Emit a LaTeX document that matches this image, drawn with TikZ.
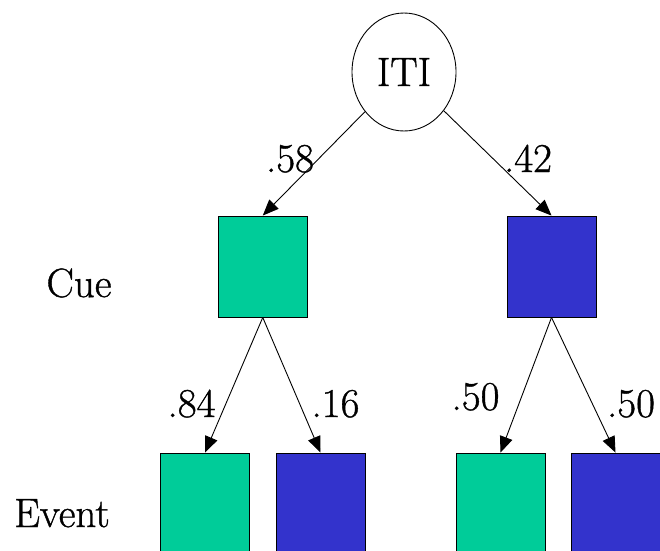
\documentclass[tikz,border=0pt]{standalone}
\usepackage{fontspec}
\newfontfamily\treefont{Latin Modern Roman}[FakeBold=0.9]
\usetikzlibrary{arrows.meta,shapes.geometric}
\definecolor{cuegreen}{RGB}{0,204,153}
\definecolor{cueblue}{RGB}{51,51,204}
\begin{document}
\begin{tikzpicture}[x=1pt,y=-1pt,
  every node/.style={font=\treefont\fontsize{41}{41}\selectfont},
  sq/.style={draw=black, line width=0.9pt, minimum width=89pt, minimum height=101pt, inner sep=0pt},
  greensq/.style={sq, fill=cuegreen},
  bluesq/.style={sq, fill=cueblue},
  lbl/.style={anchor=base, inner sep=0pt},
  branch/.style={draw=black, line width=0.9pt, -{Triangle[length=16pt,width=13pt]}}]
  \useasboundingbox (0,0) rectangle (660,550);
  \clip (0,0) rectangle (660,550);
  % root
  \node[draw=black, line width=0.9pt, ellipse, minimum width=104pt, minimum height=118pt, inner sep=0pt] (iti) at (404,72) {ITI};
  % cue level
  \node[greensq] (cueG) at (262.75,266.5) {};
  \node[bluesq]  (cueB) at (551.5,266.5) {};
  % event level
  \node[greensq] (evG1) at (205,503.5) {};
  \node[bluesq]  (evB1) at (320.5,503.5) {};
  \node[greensq] (evG2) at (500.5,503.5) {};
  \node[bluesq]  (evB2) at (615.5,503.5) {};
  % connectors
  \draw[branch] (iti) -- (cueG.north);
  \draw[branch] (iti) -- (cueB.north);
  \draw[branch] (cueG.south) -- (evG1.north);
  \draw[branch] (cueG.south) -- (evB1.north);
  \draw[branch] (cueB.south) -- (evG2.north);
  \draw[branch] (cueB.south) -- (evB2.north);
  % probabilities
  \node[lbl] (p58) at (290,172) {.58};
  \node[lbl] (p42) at (528,172) {.42};
  \node[lbl] (p84) at (191.5,417) {.84};
  \node[lbl] (p16) at (335.5,417) {.16};
  \node[lbl] (p50a) at (475.5,410) {.50};
  \node[lbl] (p50b) at (631,417) {.50};
  % row labels
  \node[lbl] (cue) at (79,297) {Cue};
  \node[lbl] (event) at (62,527) {Event};
\end{tikzpicture}
\end{document}
